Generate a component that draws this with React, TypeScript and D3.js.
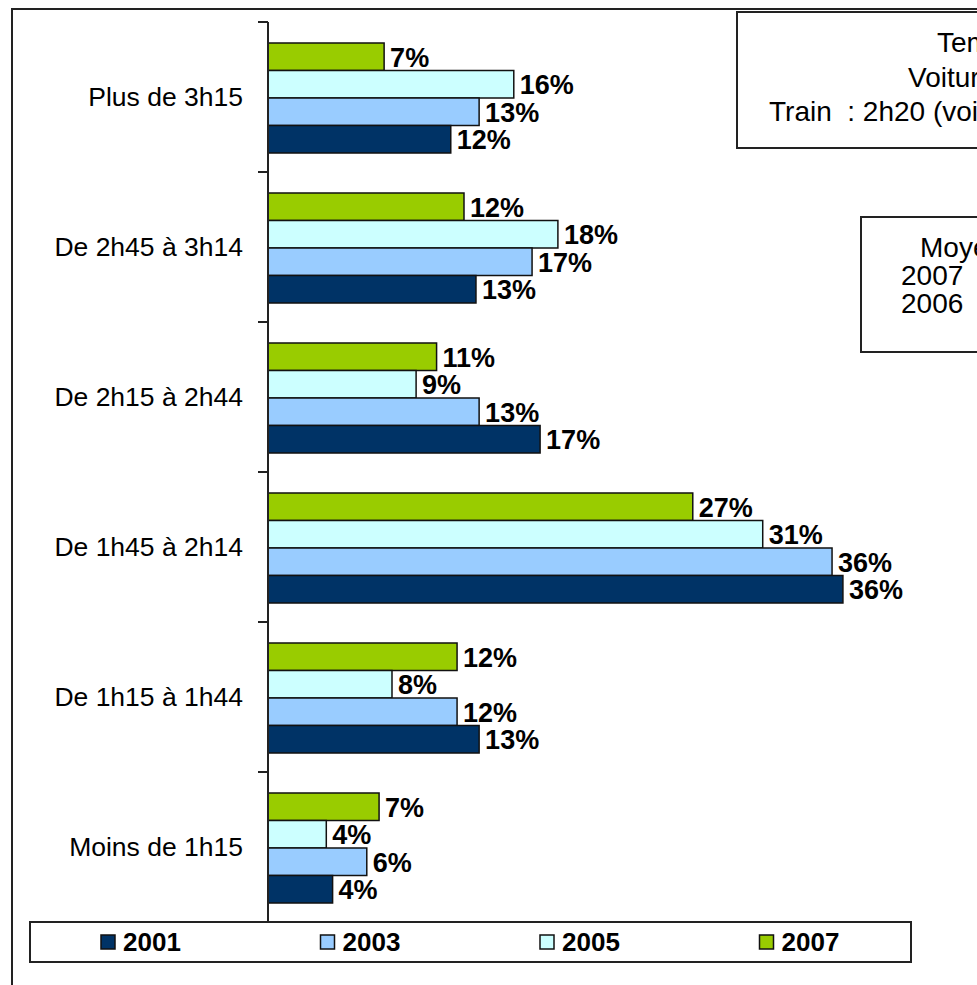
import React from "react";
import * as d3 from "d3";

const categories = [
  "Plus de 3h15",
  "De 2h45 à 3h14",
  "De 2h15 à 2h44",
  "De 1h45 à 2h14",
  "De 1h15 à 1h44",
  "Moins de 1h15",
];
const years = ["2001", "2003", "2005", "2007"];
const values2001 = [11.6, 13.2, 17.27, 36.49, 13.4, 4.1];
const values2003 = [13.4, 16.76, 13.4, 35.8, 12.0, 6.27];
const values2005 = [15.6, 18.4, 9.4, 31.4, 7.87, 3.7];
const values2007 = [7.37, 12.44, 10.7, 26.96, 12.0, 7.05];
const seriesValues: Record<string, number[]> = {
  "2001": values2001,
  "2003": values2003,
  "2005": values2005,
  "2007": values2007,
};
const colors: Record<string, string> = {
  "2001": "#003366",
  "2003": "#99CCFF",
  "2005": "#CCFFFF",
  "2007": "#99CC00",
};
const box1Lines = ["Temps", "Voiture", "Train  : 2h20 (voie"];
const box2Lines = ["Moyenne", "2007", "2006"];

const FONT = "'Liberation Sans', Arial, Helvetica, sans-serif";

export default function App() {
  const W = 977;
  const H = 985;
  const x = d3.scaleLinear().domain([0, 45]).range([268, 977]);
  const y = d3.scaleBand<string>().domain(categories).range([22, 922]);
  const orderTopToBottom = ["2007", "2005", "2003", "2001"];
  const sub = d3.scaleBand<string>().domain(orderTopToBottom).range([21, 131]);
  const tickYs = d3.range(categories.length + 1).map((i) => 22 + i * y.step());

  return (
    <svg
      width={W}
      height={H}
      style={{ position: "absolute", left: 0, top: 0, background: "#fff" }}
      fontFamily={FONT}
    >
      <rect x={0} y={0} width={W} height={H} fill="#fff" />
      {/* outer frame */}
      <rect x={12} y={9} width={1100} height={1100} fill="none" stroke="#222" strokeWidth={2} />

      {/* bars */}
      {categories.map((c, ci) => (
        <g key={c}>
          {orderTopToBottom.map((yr) => {
            const v = seriesValues[yr][ci];
            const by = (y(c) as number) + (sub(yr) as number);
            const bh = sub.bandwidth();
            return (
              <g key={yr}>
                <rect
                  x={x(0)}
                  y={by}
                  width={x(v) - x(0)}
                  height={bh}
                  fill={colors[yr]}
                  stroke="#111"
                  strokeWidth={1.5}
                />
                <text
                  x={x(v) + 6}
                  y={by + bh / 2 + 10}
                  fontSize={27}
                  fontWeight="bold"
                  fill="#000"
                >
                  {Math.round(v) + "%"}
                </text>
              </g>
            );
          })}
          <text
            x={243}
            y={(y(c) as number) + y.bandwidth() / 2 + 9}
            fontSize={26.5}
            textAnchor="end"
            fill="#000"
          >
            {c}
          </text>
        </g>
      ))}

      {/* axis */}
      <line x1={268} x2={268} y1={22} y2={922} stroke="#222" strokeWidth={2} />
      {tickYs.map((ty, i) => (
        <line key={i} x1={258} x2={268} y1={ty} y2={ty} stroke="#222" strokeWidth={2} />
      ))}

      {/* text box 1 */}
      <rect x={737} y={12} width={400} height={136} fill="#fff" stroke="#222" strokeWidth={2} />
      <text x={937} y={52} fontSize={28} fill="#000">{box1Lines[0]}</text>
      <text x={908} y={87} fontSize={28} fill="#000">{box1Lines[1]}</text>
      <text x={769} y={121} fontSize={28} fill="#000" style={{ whiteSpace: "pre" }}>{box1Lines[2]}</text>

      {/* text box 2 */}
      <rect x={861} y={217} width={300} height={135} fill="#fff" stroke="#222" strokeWidth={2} />
      <text x={920} y={257} fontSize={28} fill="#000">{box2Lines[0]}</text>
      <text x={901} y={285} fontSize={28} fill="#000">{box2Lines[1]}</text>
      <text x={901} y={313} fontSize={28} fill="#000">{box2Lines[2]}</text>

      {/* legend */}
      <rect x={30} y={922} width={881} height={40} fill="#fff" stroke="#222" strokeWidth={2} />
      {years.map((yr, i) => {
        const lx = 101 + i * 219.5;
        return (
          <g key={yr}>
            <rect x={lx} y={935} width={14} height={14} fill={colors[yr]} stroke="#111" strokeWidth={1.5} />
            <text x={lx + 22} y={951} fontSize={26} fontWeight="bold" fill="#000">{yr}</text>
          </g>
        );
      })}
    </svg>
  );
}
